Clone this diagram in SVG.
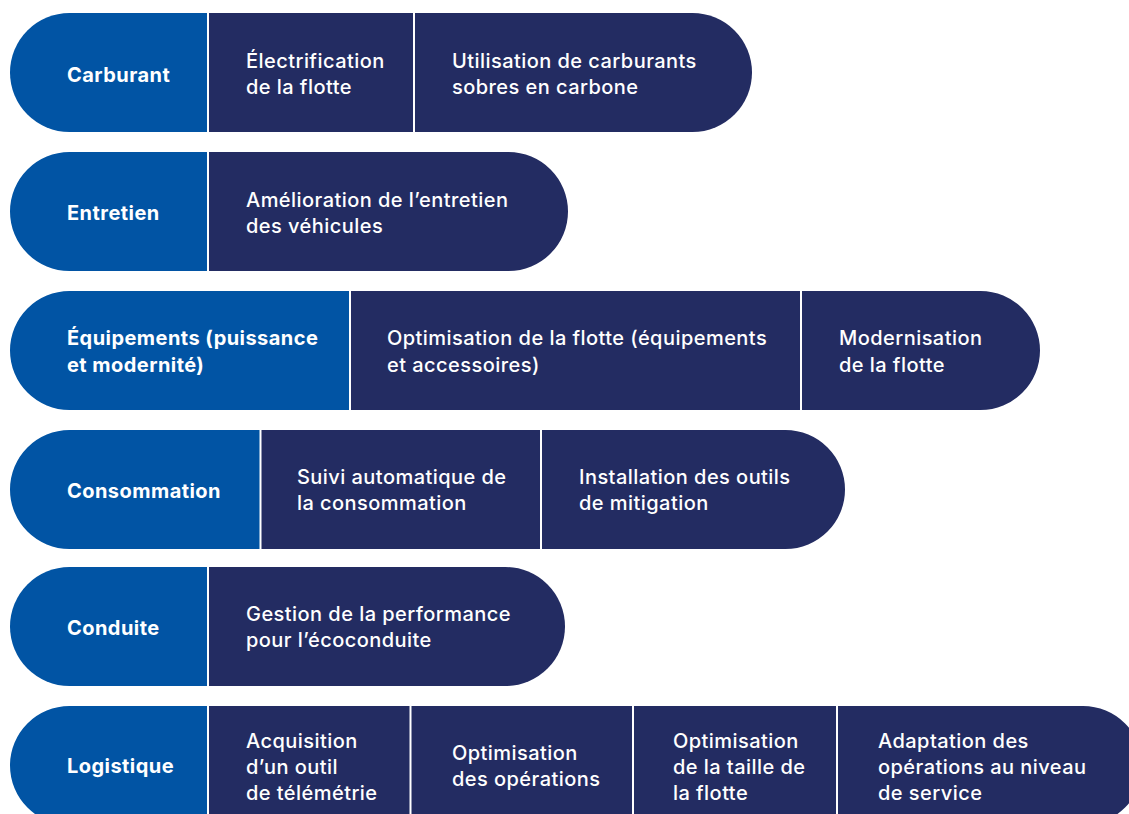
<svg xmlns="http://www.w3.org/2000/svg" width="1129" height="814" viewBox="0 0 1129 814">
<style>
.cat{fill:#0154A4}
.act{fill:#232C62}
text{font-family:Inter,"Noto Sans","Liberation Sans",sans-serif;font-size:20px;fill:#ffffff;letter-spacing:0.45px}
.h{font-weight:700}
.t{font-weight:500}
</style>
<rect width="1129" height="814" fill="#ffffff"/>
<g id="connectors"></g>

<!-- Row 1 -->
<g id="carburant">
<path class="cat" d="M69.5,13 H207 V132 H69.5 A59.5,59.5 0 0 1 69.5,13 Z"/>
<text class="h" x="67" y="82">Carburant</text>
</g>
<g id="electrification">
<rect class="act" x="209" y="13" width="204" height="119"/>
<text class="t" x="246" y="68">Électrification</text>
<text class="t" x="246" y="94">de la flotte</text>
</g>
<g id="carburants-sobres">
<path class="act" d="M415,13 H692.5 A59.5,59.5 0 0 1 692.5,132 H415 Z"/>
<text class="t" x="452" y="68">Utilisation de carburants</text>
<text class="t" x="452" y="94">sobres en carbone</text>
</g>

<!-- Row 2 -->
<g id="entretien">
<path class="cat" d="M69.5,152 H207 V271 H69.5 A59.5,59.5 0 0 1 69.5,152 Z"/>
<text class="h" x="67" y="220">Entretien</text>
</g>
<g id="amelioration-entretien">
<path class="act" d="M209,152 H508.5 A59.5,59.5 0 0 1 508.5,271 H209 Z"/>
<text class="t" x="246" y="207">Amélioration de l’entretien</text>
<text class="t" x="246" y="233">des véhicules</text>
</g>

<!-- Row 3 -->
<g id="equipements">
<path class="cat" d="M69.5,291 H349 V410 H69.5 A59.5,59.5 0 0 1 69.5,291 Z"/>
<text class="h" x="67" y="345">Équipements (puissance</text>
<text class="h" x="67" y="372">et modernité)</text>
</g>
<g id="optimisation-equipements">
<rect class="act" x="351" y="291" width="449" height="119"/>
<text class="t" x="387" y="345">Optimisation de la flotte (équipements</text>
<text class="t" x="387" y="372">et accessoires)</text>
</g>
<g id="modernisation">
<path class="act" d="M802,291 H980.5 A59.5,59.5 0 0 1 980.5,410 H802 Z"/>
<text class="t" x="839" y="345">Modernisation</text>
<text class="t" x="839" y="372">de la flotte</text>
</g>

<!-- Row 4 -->
<g id="consommation">
<path class="cat" d="M69.5,430 H259.5 V549 H69.5 A59.5,59.5 0 0 1 69.5,430 Z"/>
<text class="h" x="67" y="498">Consommation</text>
</g>
<g id="suivi-consommation">
<rect class="act" x="261.5" y="430" width="278.5" height="119"/>
<text class="t" x="297" y="484">Suivi automatique de</text>
<text class="t" x="297" y="510">la consommation</text>
</g>
<g id="outils-mitigation">
<path class="act" d="M542,430 H785.5 A59.5,59.5 0 0 1 785.5,549 H542 Z"/>
<text class="t" x="579" y="484">Installation des outils</text>
<text class="t" x="579" y="510">de mitigation</text>
</g>

<!-- Row 5 -->
<g id="conduite">
<path class="cat" d="M69.5,567 H207 V686 H69.5 A59.5,59.5 0 0 1 69.5,567 Z"/>
<text class="h" x="67" y="635">Conduite</text>
</g>
<g id="ecoconduite">
<path class="act" d="M209,567 H505.5 A59.5,59.5 0 0 1 505.5,686 H209 Z"/>
<text class="t" x="246" y="621">Gestion de la performance</text>
<text class="t" x="246" y="647">pour l’écoconduite</text>
</g>

<!-- Row 6 -->
<g id="logistique">
<path class="cat" d="M69.5,706 H207 V825 H69.5 A59.5,59.5 0 0 1 69.5,706 Z"/>
<text class="h" x="67" y="773">Logistique</text>
</g>
<g id="telemetrie">
<rect class="act" x="209" y="706" width="200.5" height="119"/>
<text class="t" x="246" y="748">Acquisition</text>
<text class="t" x="246" y="774">d’un outil</text>
<text class="t" x="246" y="800">de télémétrie</text>
</g>
<g id="optimisation-operations">
<rect class="act" x="411.5" y="706" width="220.5" height="119"/>
<text class="t" x="452" y="760">Optimisation</text>
<text class="t" x="452" y="786">des opérations</text>
</g>
<g id="taille-flotte">
<rect class="act" x="634" y="706" width="202" height="119"/>
<text class="t" x="673" y="748">Optimisation</text>
<text class="t" x="673" y="774">de la taille de</text>
<text class="t" x="673" y="800">la flotte</text>
</g>
<g id="adaptation-service">
<path class="act" d="M838,706 H1083 A59.5,59.5 0 0 1 1083,825 H838 Z"/>
<text class="t" x="878" y="748">Adaptation des</text>
<text class="t" x="878" y="774">opérations au niveau</text>
<text class="t" x="878" y="800">de service</text>
</g>
</svg>
